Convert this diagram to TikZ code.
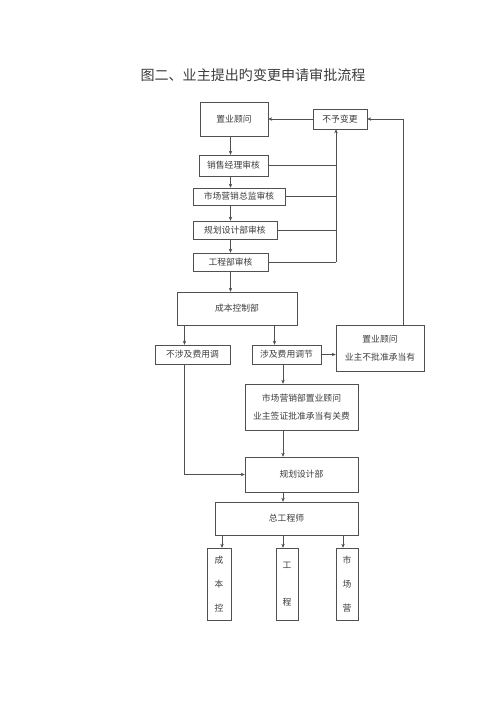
\documentclass[tikz,border=0pt]{standalone}
\usepackage{fontspec}
\setmainfont{Noto Sans CJK SC}
\usetikzlibrary{arrows.meta}
\definecolor{linegray}{RGB}{80,80,80}
\definecolor{textgray}{RGB}{60,60,60}
\tikzset{
  box/.style={draw=linegray,line width=0.7pt,inner sep=0pt,align=center,text=textgray,
    font=\fontsize{12.5}{15}\selectfont},
  conn/.style={draw=linegray,line width=0.7pt}
}
\begin{document}
\begin{tikzpicture}[>={Stealth[length=2mm,width=1.7mm]},x=0.5mm,y=-0.5mm]
\useasboundingbox (0,0) rectangle (500,707);
\node[text=textgray,font=\fontsize{20}{24}\selectfont] (title) at (253,75) {图二、业主提出旳变更申请审批流程};
% review chain
\node[box,minimum width=34mm,minimum height=17mm] (gw) at (234,119) {置业顾问};
\node[box,minimum width=27mm,minimum height=10mm] (bybg) at (340,119) {不予变更};
\node[box,minimum width=34.5mm,minimum height=10.5mm] (xsjl) at (233.5,165.5) {销售经理审核};
\node[box,minimum width=46mm,minimum height=8.5mm] (sczj) at (239,196.5) {市场营销总监审核};
\node[box,minimum width=42mm,minimum height=9mm] (ghsh) at (235,230) {规划设计部审核};
\node[box,minimum width=37.5mm,minimum height=9mm] (gcsh) at (230.5,262) {工程部审核};
\node[box,minimum width=60mm,minimum height=16.5mm] (cbkz) at (237,308.5) {成本控制部};
\node[box,minimum width=37.5mm,minimum height=9.5mm] (bsj) at (192.5,354.5) {不涉及费用调};
\node[box,minimum width=34.5mm,minimum height=9.5mm] (sj) at (286.5,354.5) {涉及费用调节};
\node[box,minimum width=44mm,minimum height=23mm] (gwr) at (380,348) {置业顾问\\[4mm]业主不批准承当有};
\node[box,minimum width=56.5mm,minimum height=23mm] (scyx) at (301.5,407) {市场营销部置业顾问\\[4mm]业主签证批准承当有关费};
\node[box,minimum width=56.5mm,minimum height=17.5mm] (ghsj) at (301.5,474.5) {规划设计部};
\node[box,minimum width=71.5mm,minimum height=16.5mm] (zgcs) at (286.5,518.5) {总工程师};
\node[box,minimum width=12mm,minimum height=36mm,font=\fontsize{12.5}{34}\selectfont] (cbk) at (219,584) {成\\本\\控};
\node[box,minimum width=11mm,minimum height=36mm,font=\fontsize{12.5}{52}\selectfont] (gc) at (287,584) {工\\程};
\node[box,minimum width=11mm,minimum height=36mm,font=\fontsize{12.5}{34}\selectfont] (scy) at (347,584) {市\\场\\营};
% connectors
\coordinate (bus) at ([xshift=-2mm]bybg.south);
\draw[conn,->] (gw.south -| gcsh) -- (xsjl.north -| gcsh);
\draw[conn,->] (xsjl.south -| gcsh) -- (sczj.north -| gcsh);
\draw[conn,->] (sczj.south -| gcsh) -- (ghsh.north -| gcsh);
\draw[conn,->] (ghsh.south -| gcsh) -- (gcsh.north);
\draw[conn,->] (gcsh.south) -- (cbkz.north -| gcsh);
\draw[conn] (xsjl.east) -- (xsjl.east -| bus);
\draw[conn] (sczj.east) -- (sczj.east -| bus);
\draw[conn] (ghsh.east) -- (ghsh.east -| bus);
\draw[conn] (gcsh.east) -- (gcsh.east -| bus);
\draw[conn,->] (gcsh.east -| bus) -- (bus);
\draw[conn,->] (bybg.west) -- (gw.east);
\draw[conn,->] ([xshift=11.5mm]gwr.north) |- (bybg.east);
\draw[conn,->] ([xshift=-4mm]bsj.north |- cbkz.south) -- ([xshift=-4mm]bsj.north);
\draw[conn,->] ([xshift=-6mm]sj.north |- cbkz.south) -- ([xshift=-6mm]sj.north);
\draw[conn,->] (sj.east) -- (sj.east -| gwr.west);
\draw[conn,->] ([xshift=-1.75mm]sj.south) -- ([xshift=-1.75mm]sj.south |- scyx.north);
\draw[conn,->] ([xshift=-1.75mm]sj.south |- scyx.south) -- ([xshift=-1.75mm]sj.south |- ghsj.north);
\draw[conn,->] ([xshift=-1.75mm]sj.south |- ghsj.south) -- ([xshift=-1.75mm]sj.south |- zgcs.north);
\draw[conn,->] ([xshift=-4mm]bsj.south) |- (ghsj.west);
\draw[conn,->] ([xshift=1.5mm]cbk.north |- zgcs.south) -- ([xshift=1.5mm]cbk.north);
\draw[conn,->] ([xshift=-2mm]gc.north |- zgcs.south) -- ([xshift=-2mm]gc.north);
\draw[conn,->] ([xshift=-2mm]scy.north |- zgcs.south) -- ([xshift=-2mm]scy.north);
\end{tikzpicture}
\end{document}
